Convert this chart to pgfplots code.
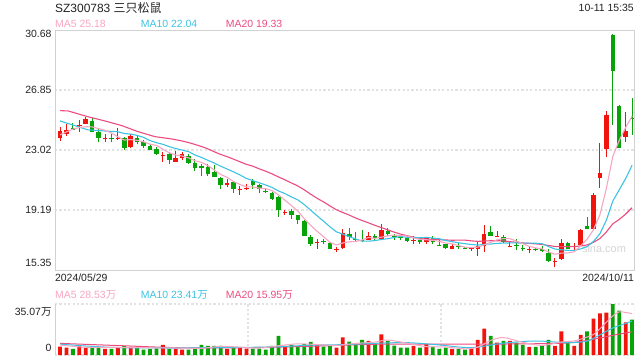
\documentclass[border=0pt]{standalone}
\usepackage{fontspec}
\setmainfont{Liberation Sans}
\newfontfamily\cjk{Noto Sans CJK SC}
\usepackage{pgfplots}
\usepackage{pgfplotstable}
\pgfplotsset{compat=1.18}
\definecolor{cred}{HTML}{F0140C}
\definecolor{cgreen}{HTML}{08A308}
\definecolor{cma5}{HTML}{F7A6C2}
\definecolor{cma10}{HTML}{3CC3E3}
\definecolor{cma20}{HTML}{EC4C7E}
\definecolor{cframe}{HTML}{D2D2D2}
\definecolor{cgrid}{HTML}{E2E2E2}
\definecolor{ctext}{HTML}{222222}
\definecolor{cwm}{HTML}{D4D4D4}

\pgfplotstableread{
i O H L C
0 23.77 24.49 23.60 24.23
1 24.06 24.66 23.93 24.30
3 24.58 24.95 24.19 24.64
4 24.70 25.13 24.66 25.00
7 23.74 24.02 23.55 23.80
9 23.72 24.44 23.68 23.78
11 23.21 24.02 23.13 23.93
16 22.66 22.91 22.27 22.72
18 22.27 22.96 22.23 22.53
19 22.53 22.91 22.36 22.74
26 20.80 21.15 20.64 20.93
28 20.47 20.72 20.13 20.53
29 20.51 20.85 20.47 20.57
35 18.97 19.19 18.85 19.03
40 17.07 17.36 16.72 17.13
43 16.64 16.85 16.51 16.70
44 16.76 17.96 16.68 17.70
48 17.29 17.77 17.26 17.51
50 17.34 18.28 17.26 17.89
55 17.23 17.55 16.99 17.29
57 17.13 17.47 17.04 17.38
61 16.70 17.00 16.66 16.91
64 16.67 16.83 16.57 16.73
65 16.70 17.17 16.27 16.91
66 16.91 18.23 16.49 17.64
68 17.49 17.87 17.45 17.55
70 16.81 17.15 16.80 16.87
73 16.65 16.85 16.46 16.71
77 15.89 16.13 15.53 15.95
78 16.08 17.32 16.00 17.06
80 16.82 17.06 16.59 16.88
81 16.93 17.96 16.89 17.91
83 18.00 20.26 17.96 20.13
84 21.23 23.49 20.59 21.53
85 23.06 25.53 22.55 25.24
88 23.87 25.44 23.53 24.25
}\redtab

\pgfplotstableread{
i O H L C
2 24.44 24.72 24.30 24.32
5 24.87 25.08 24.15 24.19
6 24.15 24.41 23.51 23.77
8 23.80 24.02 23.55 23.74
10 23.77 23.85 23.04 23.17
12 23.81 23.89 23.38 23.51
13 23.51 23.68 23.17 23.30
14 23.26 23.42 23.00 23.04
15 23.08 23.21 22.70 22.78
17 22.78 22.87 22.15 22.36
20 22.66 22.74 22.15 22.19
21 22.19 22.45 21.68 21.85
22 22.02 22.15 21.38 21.85
23 21.92 22.13 21.36 21.49
24 21.62 22.04 21.28 21.32
25 21.23 21.32 20.55 20.76
27 20.98 21.02 20.26 20.51
30 21.02 21.15 20.51 20.77
31 20.80 20.85 20.26 20.51
32 20.42 20.51 20.26 20.36
33 20.26 20.34 19.83 19.91
34 19.99 20.08 18.76 19.19
36 19.15 19.23 18.63 18.85
37 18.85 18.89 18.30 18.55
38 18.51 18.55 17.53 17.53
39 17.45 17.58 16.89 17.02
41 17.22 17.32 17.02 17.16
42 17.06 17.15 16.68 16.72
45 17.64 18.02 17.26 17.47
46 17.33 17.80 17.21 17.27
47 17.28 17.89 17.17 17.22
49 17.55 17.68 17.26 17.38
51 17.85 18.06 17.55 17.64
52 17.53 17.68 17.29 17.47
53 17.44 17.55 17.26 17.38
54 17.42 17.55 17.13 17.21
56 17.29 17.42 17.04 17.13
58 17.42 17.55 16.99 17.17
59 16.97 17.26 16.91 16.91
60 17.00 17.04 16.70 16.74
62 16.86 17.08 16.66 16.80
63 16.77 16.83 16.66 16.71
67 17.77 18.19 17.55 17.55
69 17.45 17.58 17.10 17.15
71 16.96 17.36 16.64 16.90
72 16.74 16.94 16.55 16.68
74 16.71 16.76 16.55 16.65
75 16.68 16.89 16.51 16.55
76 16.46 16.68 15.87 15.92
79 17.06 17.15 16.68 16.72
82 18.17 18.72 17.96 18.00
86 30.34 30.42 24.64 28.08
87 25.83 25.87 23.15 23.15
89 25.08 26.34 23.99 25.02
}\greentab

\pgfplotstableread{
i v
0 23.98
1 24.17
2 24.35
3 24.45
4 24.50
5 24.49
6 24.38
7 24.28
8 24.10
9 23.86
10 23.65
11 23.68
12 23.63
13 23.54
14 23.39
15 23.31
16 23.07
17 22.84
18 22.69
19 22.63
20 22.51
21 22.33
22 22.23
23 22.02
24 21.74
25 21.45
26 21.27
27 21.00
28 20.81
29 20.66
30 20.66
31 20.58
32 20.55
33 20.42
34 20.15
35 19.80
36 19.47
37 19.11
38 18.63
39 18.20
40 17.82
41 17.48
42 17.11
43 16.95
44 17.08
45 17.15
46 17.17
47 17.27
48 17.43
49 17.37
50 17.45
51 17.53
52 17.58
53 17.55
54 17.52
55 17.40
56 17.30
57 17.28
58 17.24
59 17.18
60 17.07
61 17.02
62 16.91
63 16.81
64 16.78
65 16.81
66 16.96
67 17.11
68 17.28
69 17.36
70 17.35
71 17.20
72 17.03
73 16.86
74 16.76
75 16.70
76 16.50
77 16.36
78 16.43
79 16.44
80 16.51
81 16.90
82 17.31
83 17.93
84 18.89
85 20.56
86 22.60
87 23.63
88 24.45
89 25.18
}\mafive

\pgfplotstableread{
i v
0 24.87
2.33 24.57
4.35 24.30
6.99 24.23
9 24.18
10 24.07
11 24.03
12 23.95
13 23.82
14 23.62
15 23.48
16 23.38
17 23.23
18 23.11
19 23.01
20 22.91
21 22.70
22 22.54
23 22.36
24 22.18
25 21.98
26 21.80
27 21.62
28 21.42
29 21.20
30 21.06
31 20.92
32 20.78
33 20.62
34 20.40
35 20.23
36 20.02
37 19.83
38 19.53
39 19.17
40 18.81
41 18.47
42 18.11
43 17.79
44 17.64
45 17.48
46 17.33
47 17.19
48 17.19
49 17.23
50 17.30
51 17.35
52 17.43
53 17.49
54 17.44
55 17.43
56 17.41
57 17.43
58 17.39
59 17.35
60 17.23
61 17.16
62 17.09
63 17.03
64 16.98
65 16.94
66 16.99
67 17.01
68 17.05
69 17.07
70 17.08
71 17.08
72 17.07
73 17.07
74 17.06
75 17.03
76 16.85
77 16.69
78 16.64
79 16.60
80 16.60
81 16.70
82 16.84
83 17.18
84 17.67
85 18.53
86 19.75
87 20.47
88 21.19
89 22.04
}\maten

\pgfplotstableread{
i v
0 25.53
1.24 25.51
4.35 25.14
6.99 24.87
9.63 24.57
12.11 24.19
14.75 23.87
17.39 23.72
19 23.59
20 23.49
21 23.37
22 23.24
23 23.09
24 22.90
25 22.73
26 22.59
27 22.43
28 22.26
29 22.10
30 21.98
31 21.81
32 21.66
33 21.49
34 21.29
35 21.11
36 20.91
37 20.72
38 20.47
39 20.19
40 19.93
41 19.70
42 19.44
43 19.20
44 19.02
45 18.86
46 18.67
47 18.51
48 18.36
49 18.20
50 18.06
51 17.91
52 17.77
53 17.64
54 17.54
55 17.45
56 17.37
57 17.31
58 17.29
59 17.29
60 17.27
61 17.25
62 17.26
63 17.26
64 17.21
65 17.18
66 17.20
67 17.22
68 17.22
69 17.21
70 17.16
71 17.12
72 17.08
73 17.05
74 17.02
75 16.98
76 16.92
77 16.85
78 16.84
79 16.84
80 16.84
81 16.89
82 16.95
83 17.12
84 17.36
85 17.78
86 18.30
87 18.58
88 18.92
89 19.33
}\matwenty

\pgfplotstableread{
i v
0 5.79
1 5.09
3 6.48
4 5.09
7 4.17
9 5.09
11 5.09
16 6.95
18 4.40
19 3.70
26 4.17
28 5.09
29 4.40
35 6.25
40 6.71
43 5.09
44 12.04
48 9.72
50 14.12
55 6.25
57 7.41
61 4.17
64 4.63
65 10.42
66 18.06
68 8.57
70 9.72
73 5.56
77 6.25
78 16.2
80 6.25
81 13.9
83 25.0
84 28.7
85 29.2
88 22.5
}\volred

\pgfplotstableread{
i v
2 4.17
5 5.09
6 5.79
8 4.17
10 6.25
12 5.09
13 3.70
14 4.17
15 4.63
17 4.17
20 3.70
21 4.17
22 6.95
23 6.25
24 6.25
25 6.25
27 5.32
30 4.40
31 4.40
32 3.70
33 6.25
34 13.2
36 6.95
37 5.79
38 7.41
39 9.03
41 5.79
42 6.25
45 9.26
46 7.41
47 10.42
49 7.64
51 9.72
52 6.48
53 5.09
54 5.09
56 5.09
58 5.79
59 4.17
60 5.09
62 4.17
63 3.70
67 13.2
69 9.72
71 8.57
72 6.95
74 5.56
75 6.25
76 10.42
79 9.26
82 16.2
86 35.07
87 30.6
89 24.3
}\volgreen

\pgfplotstableread{
i v
0 6.8
2 6.0
4 5.32
7 5.32
10 5.09
13 5.04
16 4.91
19 4.77
22 4.58
25 5.97
28 5.42
31 4.72
34 6.39
37 7.69
40 7.18
43 6.57
46 8.01
49 8.89
51 10.32
54 8.1
57 5.79
60 5.51
63 4.26
65 5.42
67 10.0
69 11.99
72 8.71
75 6.58
78 8.94
80 9.68
82 12.36
83 14.12
84 18.01
85 22.6
86 26.83
87 29.71
88 29.21
89 28.53
}\vmafive

\pgfplotstableread{
i v
0 7.5
4 6.2
9 5.09
14 4.86
19 4.82
24 5.12
29 5.26
34 5.72
39 6.74
44 7.13
49 8.03
54 8.5
59 6.92
64 5.05
69 8.17
74 9.63
79 8.47
82 9.59
84 13.84
86 18.6
88 21.67
89 23.41
}\vmaten

\pgfplotstableread{
i v
0 8.0
9 6.5
19 4.95
29 5.04
39 6.0
49 7.39
59 7.48
69 7.55
79 8.32
84 11.74
86 13.53
89 15.95
}\vmatwenty

\begin{document}
\begin{tikzpicture}
\useasboundingbox (0,0) rectangle (640bp,-360bp);
\tikzset{lbl/.style={anchor=west, inner sep=0pt, font=\fontsize{10.5}{12}\selectfont}}
\pgfplotsset{candle/.style={only marks, mark=*, mark size=0pt, mark options={draw=none, fill=none}, forget plot}}
\node[anchor=west, inner sep=0pt, text=ctext, font=\fontsize{12}{14}\selectfont] at (55bp,-7.5bp) {SZ300783 {\cjk 三只松鼠}};
\node[anchor=east, inner sep=0pt, text=ctext, font=\fontsize{10.5}{12}\selectfont] at (634bp,-8bp) {10-11 15:35};
\node[lbl, text=cma5] at (55bp,-24.3bp) {MA5 25.18};
\node[lbl, text=cma10] at (140.7bp,-24.3bp) {MA10 22.04};
\node[lbl, text=cma20] at (225.7bp,-24.3bp) {MA20 19.33};
\node[lbl, text=cma5] at (55bp,-295bp) {MA5 28.53{\cjk 万}};
\node[lbl, text=cma10] at (140.7bp,-295bp) {MA10 23.41{\cjk 万}};
\node[lbl, text=cma20] at (225.7bp,-295bp) {MA20 15.95{\cjk 万}};
\node[anchor=center, inner sep=0pt, text=cwm, font=\fontsize{11}{13}\selectfont] at (604bp,-249bp) {sina.com};

\begin{axis}[
  at={(55bp,-30bp)}, anchor=north west,
  width=579bp, height=240bp, scale only axis,
  xmin=-0.78, xmax=89.3, ymin=15.35, ymax=30.68,
  axis line style={draw=cframe, line width=1bp},
  tick style={draw=none},
  xtick={-0.77,89.29},
  xticklabels={{\makebox[0pt][l]{2024/05/29}},{\makebox[0pt][r]{2024/10/11}}},
  ytick={19.19,23.02,26.85},
  yticklabels={19.19,23.02,26.85},
  extra y ticks={15.351,30.679},
  extra y tick labels={{\raisebox{6.7bp}[7bp][0pt]{15.35}},{\raisebox{-4.3bp}[7bp][0pt]{30.68}}},
  extra y tick style={grid=none},
  ymajorgrids,
  grid style={draw=cgrid, line width=1.3bp, dash pattern=on 2.2bp off 2.2bp},
  tick label style={font=\fontsize{10.5}{12}\selectfont, text=ctext},
]
\addplot[candle, error bars/.cd, y dir=plus, y explicit, error mark=none, error bar style={line width=1bp, draw=cred}]
  table[x=i, y=L, y error expr=\thisrow{H}-\thisrow{L}] {\redtab};
\addplot[candle, error bars/.cd, y dir=plus, y explicit, error mark=none, error bar style={line width=4.5bp, draw=cred}]
  table[x=i, y=O, y error expr=\thisrow{C}-\thisrow{O}] {\redtab};
\addplot[candle, error bars/.cd, y dir=plus, y explicit, error mark=none, error bar style={line width=1bp, draw=cgreen}]
  table[x=i, y=L, y error expr=\thisrow{H}-\thisrow{L}] {\greentab};
\addplot[candle, error bars/.cd, y dir=plus, y explicit, error mark=none, error bar style={line width=4.5bp, draw=cgreen}]
  table[x=i, y=C, y error expr=\thisrow{O}-\thisrow{C}] {\greentab};
\addplot[cma20, line width=1.1bp, mark=none] table[x=i, y=v] {\matwenty};
\addplot[cma10, line width=1.1bp, mark=none] table[x=i, y=v] {\maten};
\addplot[cma5, line width=1.1bp, mark=none] table[x=i, y=v] {\mafive};
\end{axis}

\begin{axis}[
  at={(55bp,-304bp)}, anchor=north west,
  width=579bp, height=51bp, scale only axis,
  xmin=-0.78, xmax=89.3, ymin=0, ymax=35.07,
  axis line style={draw=none},
  tick style={draw=none},
  xtick={29.25,59.27}, xticklabels={},
  xmajorgrids,
  ytick={0,35.06},
  yticklabels={{\raisebox{6.7bp}[7bp][0pt]{0}},{\raisebox{-7.7bp}[7bp][0pt]{35.07{\cjk 万}}}},
  ymajorgrids,
  grid style={draw=cgrid, line width=1.3bp, dash pattern=on 2.2bp off 2.2bp},
  tick label style={font=\fontsize{10.5}{12}\selectfont, text=ctext},
]
\draw[cframe, line width=1bp] (rel axis cs:0,0) -- (rel axis cs:0,1);
\draw[cframe, line width=1bp] (rel axis cs:1,0) -- (rel axis cs:1,1);
\addplot[ybar, bar width=3.8bp, bar shift=0pt, fill=cred, draw=none, forget plot] table[x=i, y=v] {\volred};
\addplot[ybar, bar width=3.8bp, bar shift=0pt, fill=cgreen, draw=none, forget plot] table[x=i, y=v] {\volgreen};
\addplot[cma20, line width=1bp, mark=none, smooth] table[x=i, y=v] {\vmatwenty};
\addplot[cma10, line width=1bp, mark=none, smooth] table[x=i, y=v] {\vmaten};
\addplot[cma5, line width=1bp, mark=none, smooth] table[x=i, y=v] {\vmafive};
\end{axis}
\end{tikzpicture}
\end{document}
